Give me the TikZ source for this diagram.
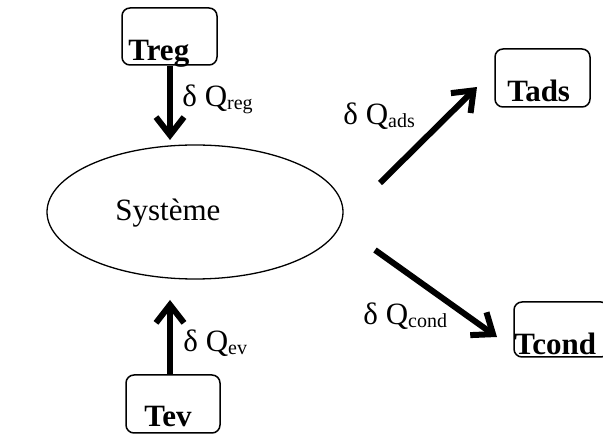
\documentclass[tikz,border=0pt]{standalone}
\usepackage{fontspec}
\setmainfont{Liberation Serif}
\usetikzlibrary{arrows.meta}
\usetikzlibrary{shapes.geometric}
\newcommand{\flux}[1]{δ Q\raisebox{-3pt}{\fontsize{20}{20}\selectfont #1}}

\begin{document}
\begin{tikzpicture}[x=1pt, y=-1pt, thick,
    box/.style = {draw, line width=1.5pt, rounded corners=8pt, minimum width=95pt, minimum height=57pt, inner sep=0pt},
    txt/.style = {anchor=base west, inner sep=0pt, font=\fontsize{31}{37}\selectfont},
    flow/.style = {line width=6pt, -{Straight Barb[length=18pt, width=28pt]}}]
    \useasboundingbox (0,0) rectangle (603,435);
    \node[draw, ellipse, line width=1.3pt, minimum width=296pt, minimum height=134pt] (sys) at (195,212) {};
    \node[txt] (systxt) at (115,221) {Système};
    % the four sources
    \node[box] (treg) at (169.5,36.5) {};
    \node[box, minimum height=58pt] (tads) at (542.5,78) {};
    \node[box, minimum height=55pt] (tcond) at (561.5,329.5) {};
    \node[box, minimum width=94pt, minimum height=58pt] (tev) at (173,404) {};
    \node[txt, font=\fontsize{31}{37}\selectfont\bfseries] (tregtxt) at (128,61) {Treg};
    \node[txt, font=\fontsize{31}{37}\selectfont\bfseries] (tadstxt) at (507,102) {Tads};
    \node[txt, font=\fontsize{31}{37}\selectfont\bfseries] (tcondtxt) at (514,355) {Tcond};
    \node[txt, font=\fontsize{31}{37}\selectfont\bfseries] (tevtxt) at (144,427) {Tev};
    % heat flows
    \coordinate (regtip) at (170,140);
    \coordinate (adsfrom) at (380,183);
    \coordinate (adstip) at (477,87);
    \coordinate (condfrom) at (375,250);
    \coordinate (condtip) at (497,337);
    \coordinate (evtip) at (170,300);
    \draw[flow] (treg.south -| regtip) -- (regtip);
    \draw[flow] (adsfrom) -- (adstip);
    \draw[flow] (condfrom) -- (condtip);
    \draw[flow] (tev.north -| evtip) -- (evtip);
    \node[txt] (qreg) at (182,107) {\flux{reg}};
    \node[txt] (qads) at (343,125) {\flux{ads}};
    \node[txt] (qcond) at (363,325) {\flux{cond}};
    \node[txt] (qev) at (183,352) {\flux{ev}};
\end{tikzpicture}
\end{document}
